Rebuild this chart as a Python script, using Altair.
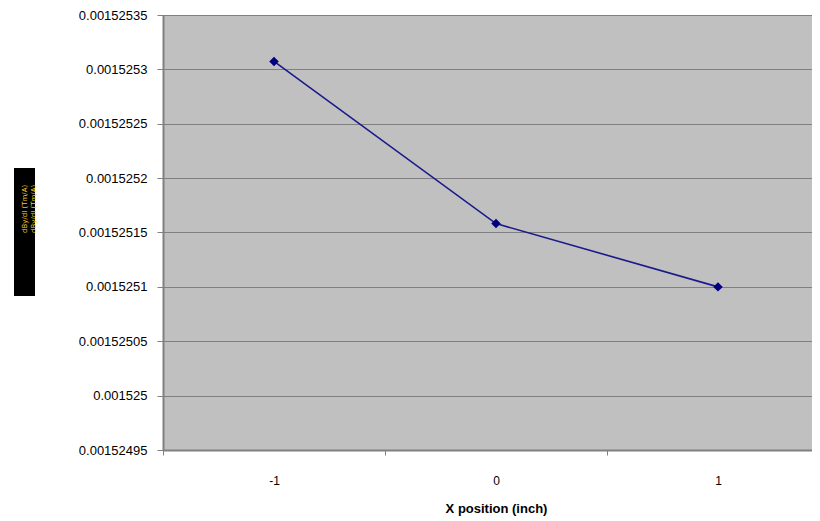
import altair as alt
import pandas as pd

x_pos = ["-1", "0", "1"]
y_vals = [0.00152530733, 0.00152515820, 0.00152510000]
y_ticks = [0.00152495, 0.001525, 0.00152505, 0.0015251, 0.00152515,
           0.0015252, 0.00152525, 0.0015253, 0.00152535]
y_title_lines = ["dBy/dI (Tm/A)", "dBy/dI (Tm/A)"]
x_title = "X position (inch)"

df = pd.DataFrame({"x": x_pos, "y": y_vals})

xenc = alt.X("x:O", sort=x_pos,
             scale=alt.Scale(paddingInner=0, paddingOuter=0, range=[0, 666]),
             axis=alt.Axis(title=x_title, labelAngle=0, tickBand="extent",
                           labelPadding=20, tickSize=5, titlePadding=16,
                           titleFontWeight="bold", titleFontSize=13,
                           labelFontSize=12, domainColor="#808080",
                           domainWidth=2, tickColor="#808080", grid=False,
                           labelColor="#000000", titleColor="#000000",
                           titleX=333,
                           labelFont="Liberation Sans", titleFont="Liberation Sans"))
yenc = alt.Y("y:Q",
             scale=alt.Scale(domain=[0.00152495, 0.00152535], nice=False, zero=False),
             axis=alt.Axis(title=None, values=y_ticks,
                           labelExpr="format(datum.value, '.8~f')",
                           labelFontSize=13, labelFont="Liberation Sans",
                           labelColor="#000000", labelPadding=10, tickSize=6,
                           tickColor="#808080", domainColor="#808080",
                           domainWidth=2, gridColor="#808080", gridWidth=1.2))

line = alt.Chart(df).mark_line(color="#1a1a8c", strokeWidth=1.6).encode(x=xenc, y=yenc)
pts = alt.Chart(df).mark_point(shape="diamond", filled=True, size=90, opacity=1,
                               color="#000080").encode(x=xenc, y=yenc)

box_df = pd.DataFrame({"t": [y_title_lines]})
box = alt.Chart(box_df).mark_rect(color="#000000").encode(
    x=alt.value(-149), x2=alt.value(-128), y=alt.value(153), y2=alt.value(281))
box_text = alt.Chart(box_df).mark_text(angle=270, align="left", baseline="middle",
                                       fontSize=7, lineHeight=9, color="#f0d020",
                                       font="DejaVu Sans").encode(
    text="t", x=alt.value(-138.5), y=alt.value(218))

chart = alt.layer(box, box_text, line, pts).properties(
    width=649, height=435,
    autosize=alt.AutoSizeParams(type="none"),
    padding={"left": 155, "top": 7, "right": 0, "bottom": 70},
).configure_view(fill="#c0c0c0", stroke=None)

chart.save("out.html", embed_options={"renderer": "svg", "actions": False})
